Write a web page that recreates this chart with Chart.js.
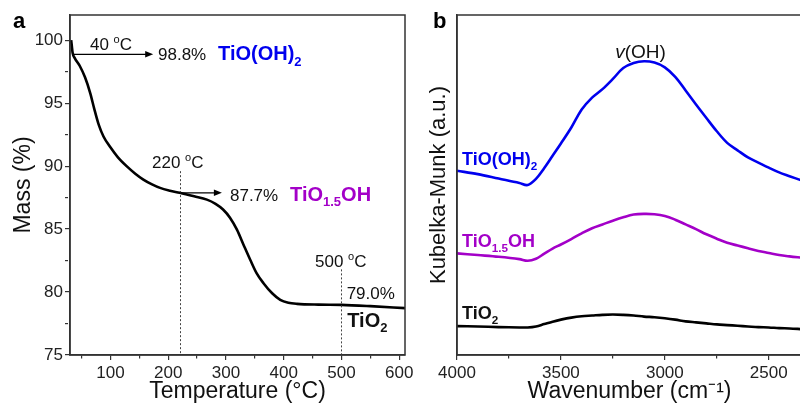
<!DOCTYPE html>
<html>
<head>
<meta charset="utf-8">
<script src="https://cdn.jsdelivr.net/npm/chart.js@4.4.1/dist/chart.umd.min.js"></script>
<style>
  html, body { margin: 0; padding: 0; background: #fff; overflow: hidden; }
  #wrap { position: relative; width: 800px; height: 407px; overflow: hidden; }
  #tga { position: absolute; left: 0; top: 0; }
  #drift { position: absolute; left: 420px; top: 0; }
</style>
</head>
<body>
<div id="wrap">
  <canvas id="tga" width="420" height="407"></canvas>
  <canvas id="drift" width="385" height="407"></canvas>
</div>
<script>
// panel a - TGA curve
const tgaTemp = [32, 33, 34.5, 38, 47, 56, 65, 72, 80, 88, 99, 113, 128, 143, 157, 172, 186, 203, 220, 245, 267, 282, 295, 307, 319, 330, 342, 353, 365, 380, 394, 408, 423, 460, 500, 550, 610];
const tgaMass = [100.0, 99.6, 99.0, 98.6, 97.95, 97.05, 95.8, 94.55, 93.25, 92.35, 91.55, 90.7, 90.0, 89.4, 88.93, 88.55, 88.27, 88.05, 87.88, 87.6, 87.34, 87.0, 86.55, 85.9, 84.95, 83.8, 82.56, 81.5, 80.7, 79.9, 79.38, 79.15, 79.06, 79.0, 78.98, 78.88, 78.72];
const tgaXTicks = [100, 200, 300, 400, 500, 600];
const tgaYTicks = [75, 80, 85, 90, 95, 100];

// panel b - Kubelka-Munk spectra (arbitrary units)
const wavenumber = [4000, 3900, 3800, 3700, 3660, 3620, 3580, 3540, 3500, 3450, 3400, 3350, 3300, 3250, 3200, 3150, 3100, 3050, 3000, 2950, 2900, 2850, 2800, 2750, 2700, 2650, 2600, 2550, 2500, 2450, 2400, 2340];
const kmTiOOH2 = [54.2, 53.2, 51.9, 50.6, 50.0, 51.8, 55.0, 58.6, 62.2, 66.9, 72.2, 75.7, 78.2, 81.2, 84.4, 85.9, 86.4, 86.0, 84.6, 81.8, 77.8, 73.7, 69.7, 65.8, 62.4, 60.2, 58.1, 56.6, 55.1, 53.7, 52.6, 51.3];
const kmTiO15OH = [29.9, 29.4, 28.9, 28.2, 27.7, 28.3, 29.8, 31.3, 32.5, 34.1, 35.8, 37.3, 38.4, 39.5, 40.5, 41.3, 41.5, 41.4, 40.9, 39.8, 38.4, 37.0, 35.5, 34.2, 33.0, 32.2, 31.4, 30.6, 30.0, 29.4, 29.0, 28.6];
const kmTiO2 = [8.5, 8.4, 8.2, 8.1, 8.1, 8.4, 9.1, 9.8, 10.4, 11.0, 11.4, 11.6, 11.8, 11.9, 11.8, 11.6, 11.3, 11.1, 10.8, 10.4, 9.9, 9.6, 9.3, 9.0, 8.8, 8.6, 8.4, 8.2, 8.1, 7.9, 7.8, 7.6];
const wnTicks = [2500, 3000, 3500, 4000];

const FONT = '"Liberation Sans", Arial, Helvetica, sans-serif';
const BLUE = '#0000ee';
const PURPLE = '#a300c8';
const INK = '#111';

// annotations (data coordinates)
const tgaArrows = [
  { x1: 33.5, x2: 174, y: 98.88 },
  { x1: 220, x2: 293, y: 87.88 }
];
const tgaMarkers = [
  { x: 220, yTop: 89.6 },
  { x: 500, yTop: 81.8 }
];
const tgaNotes = [
  { x: 64.6, y: 99.2, size: 17, parts: ['40 ', { t: 'o', sup: true }, 'C'] },
  { x: 182.4, y: 98.41, size: 17, parts: ['98.8%'] },
  { x: 286.3, y: 98.41, size: 20, bold: true, color: BLUE, parts: ['TiO(OH)', { t: '2', sub: true }] },
  { x: 172, y: 89.86, size: 17, parts: ['220 ', { t: 'o', sup: true }, 'C'] },
  { x: 307, y: 87.26, size: 17, parts: ['87.7%'] },
  { x: 411, y: 87.26, size: 20, bold: true, color: PURPLE, parts: ['TiO', { t: '1.5', sub: true }, 'OH'] },
  { x: 454.2, y: 81.98, size: 17, parts: ['500 ', { t: 'o', sup: true }, 'C'] },
  { x: 509, y: 79.46, size: 17, parts: ['79.0%'] },
  { x: 510, y: 77.25, size: 20, bold: true, parts: ['TiO', { t: '2', sub: true }] }
];
const kmNotes = [
  { x: 3239, y: 87.5, size: 19, parts: [{ t: 'v', italic: true }, '(OH)'] },
  { x: 3976, y: 55.9, size: 18, bold: true, color: BLUE, parts: ['TiO(OH)', { t: '2', sub: true }] },
  { x: 3976, y: 31.85, size: 18, bold: true, color: PURPLE, parts: ['TiO', { t: '1.5', sub: true }, 'OH'] },
  { x: 3976, y: 10.5, size: 18, bold: true, parts: ['TiO', { t: '2', sub: true }] }
];

function drawRich(ctx, x, y, note) {
  ctx.save();
  ctx.fillStyle = note.color || INK;
  ctx.textBaseline = 'alphabetic';
  ctx.textAlign = 'left';
  let cx = x;
  for (const p of note.parts) {
    const s = typeof p === 'string' ? { t: p } : p;
    const fs = (s.sub || s.sup) ? note.size * 0.65 : note.size;
    const dy = s.sub ? note.size * 0.28 : s.sup ? -note.size * 0.4 : 0;
    ctx.font = (s.italic ? 'italic ' : '') + (note.bold ? 'bold ' : '') + fs + 'px ' + FONT;
    ctx.fillText(s.t, cx, y + dy);
    cx += ctx.measureText(s.t).width;
  }
  ctx.restore();
}

function frameAndLetter(letter) {
  return {
    id: 'frame_' + letter,
    afterDraw(chart) {
      const { ctx, chartArea: a } = chart;
      ctx.save();
      ctx.strokeStyle = '#333';
      ctx.lineWidth = 1.5;
      ctx.strokeRect(a.left, a.top, a.right - a.left, a.bottom - a.top);
      ctx.fillStyle = '#000';
      ctx.font = 'bold 22px ' + FONT;
      ctx.textBaseline = 'alphabetic';
      ctx.fillText(letter, 13, 28);
      ctx.restore();
    }
  };
}

const tgaNotesPlugin = {
  id: 'tgaNotes',
  afterDatasetsDraw(chart) {
    const { ctx, scales: { x, y } } = chart;
    ctx.save();
    // dotted markers
    ctx.strokeStyle = '#444';
    ctx.lineWidth = 1;
    ctx.setLineDash([2, 2]);
    for (const m of tgaMarkers) {
      const px = Math.round(x.getPixelForValue(m.x)) + 0.5;
      ctx.beginPath();
      ctx.moveTo(px, y.getPixelForValue(m.yTop));
      ctx.lineTo(px, y.getPixelForValue(75));
      ctx.stroke();
    }
    ctx.setLineDash([]);
    // arrows
    ctx.strokeStyle = '#000';
    ctx.fillStyle = '#000';
    ctx.lineWidth = 1.2;
    for (const a of tgaArrows) {
      const x1 = x.getPixelForValue(a.x1), x2 = x.getPixelForValue(a.x2);
      const py = y.getPixelForValue(a.y);
      ctx.beginPath();
      ctx.moveTo(x1, py);
      ctx.lineTo(x2 - 6, py);
      ctx.stroke();
      ctx.beginPath();
      ctx.moveTo(x2, py);
      ctx.lineTo(x2 - 8, py - 3.2);
      ctx.lineTo(x2 - 8, py + 3.2);
      ctx.closePath();
      ctx.fill();
    }
    ctx.restore();
    for (const n of tgaNotes) drawRich(ctx, x.getPixelForValue(n.x), y.getPixelForValue(n.y), n);
  }
};

const kmNotesPlugin = {
  id: 'kmNotes',
  afterDatasetsDraw(chart) {
    const { ctx, scales: { x, y } } = chart;
    for (const n of kmNotes) drawRich(ctx, x.getPixelForValue(n.x), y.getPixelForValue(n.y), n);
  }
};

Chart.defaults.font.family = FONT;
Chart.defaults.color = '#222';

const tickFont = { size: 17, family: FONT };
const titleFont = { size: 23, family: FONT };
// major ticks full length, minor ticks cut short with a dash
const gridFor = majors => ({
  drawOnChartArea: false, drawTicks: true, tickLength: 5, color: '#333', lineWidth: 1.2,
  tickBorderDash: c => (c.tick && majors.includes(c.tick.value)) ? [] : [3, 20]
});

new Chart(document.getElementById('tga'), {
  type: 'line',
  data: {
    datasets: [{
      label: 'Mass',
      data: tgaTemp.map((t, i) => ({ x: t, y: tgaMass[i] })),
      borderColor: '#000',
      borderWidth: 2.6,
      pointRadius: 0,
      cubicInterpolationMode: 'monotone',
      fill: false
    }]
  },
  options: {
    responsive: false,
    animation: false,
    layout: { padding: { left: 0, right: 15, top: 15, bottom: 0 } },
    plugins: { legend: { display: false }, tooltip: { enabled: false } },
    scales: {
      x: {
        type: 'linear',
        min: 30, max: 610,
        ticks: {
          stepSize: 50, includeBounds: false, autoSkip: false, maxRotation: 0,
          padding: 3, font: tickFont, color: '#222',
          callback: v => tgaXTicks.includes(v) ? String(v) : ''
        },
        grid: gridFor(tgaXTicks),
        border: { display: true, color: '#333', width: 1.5 },
        title: { display: true, text: 'Temperature (°C)', font: titleFont, color: '#111', padding: { top: 0, bottom: 2 } },
        afterFit: s => { s.height = 52; }
      },
      y: {
        min: 75, max: 102,
        ticks: {
          stepSize: 2.5, includeBounds: false, autoSkip: false,
          padding: 2, font: tickFont, color: '#222',
          callback: v => tgaYTicks.includes(v) ? String(v) : ''
        },
        grid: gridFor(tgaYTicks),
        border: { display: true, color: '#333', width: 1.5 },
        title: { display: true, text: 'Mass (%)', font: titleFont, color: '#111', padding: { top: 10, bottom: 0 } },
        afterFit: s => { s.width = 70; }
      }
    }
  },
  plugins: [tgaNotesPlugin, frameAndLetter('a')]
});

const kmSeries = [
  { label: 'TiO(OH)2', values: kmTiOOH2, color: BLUE },
  { label: 'TiO1.5OH', values: kmTiO15OH, color: PURPLE },
  { label: 'TiO2', values: kmTiO2, color: '#000' }
];

new Chart(document.getElementById('drift'), {
  type: 'line',
  data: {
    datasets: kmSeries.map(s => ({
      label: s.label,
      data: wavenumber.map((w, i) => ({ x: w, y: s.values[i] })),
      borderColor: s.color,
      borderWidth: 2.6,
      pointRadius: 0,
      tension: 0.35,
      fill: false
    }))
  },
  options: {
    responsive: false,
    animation: false,
    layout: { padding: { left: 0, right: 3, top: 15, bottom: 0 } },
    plugins: { legend: { display: false }, tooltip: { enabled: false } },
    scales: {
      x: {
        type: 'linear',
        reverse: true,
        min: 2340, max: 4000,
        ticks: {
          stepSize: 250, includeBounds: false, autoSkip: false, maxRotation: 0,
          padding: 3, font: tickFont, color: '#222',
          callback: v => wnTicks.includes(v) ? String(v) : ''
        },
        grid: gridFor(wnTicks),
        border: { display: true, color: '#333', width: 1.5 },
        title: { display: true, text: 'Wavenumber (cm⁻¹)', font: titleFont, color: '#111', padding: { top: 0, bottom: 2 } },
        afterFit: s => { s.height = 52; }
      },
      y: {
        min: 0, max: 100,
        ticks: { display: false },
        grid: { display: false },
        border: { display: true, color: '#333', width: 1.5 },
        title: { display: true, text: 'Kubelka-Munk (a.u.)', font: { size: 22, family: FONT }, color: '#111', padding: { top: 6, bottom: 0 } },
        afterFit: s => { s.width = 37; }
      }
    }
  },
  plugins: [kmNotesPlugin, frameAndLetter('b')]
});
</script>
</body>
</html>
